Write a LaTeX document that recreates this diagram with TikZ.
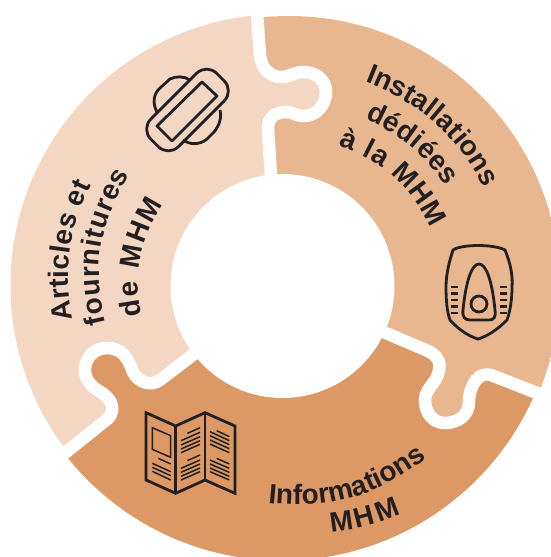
\documentclass[tikz,border=0pt]{standalone}
\usepackage{fontspec}
\usetikzlibrary{decorations.text}
\setmainfont{Liberation Sans}
\definecolor{cLight}{HTML}{F4D7C2}
\definecolor{cMid}{HTML}{E8B78F}
\definecolor{cDark}{HTML}{DC9965}
\definecolor{cInk}{HTML}{231F20}
\def\bandA{(256,0) -- (260,55) .. controls (261,68) and (270,77) .. (281,77) .. controls (290,77) and (294,72) .. (303,72) .. controls (316,72) and (326,80) .. (326,92) .. controls (326,105) and (316,116) .. (304,116) .. controls (296,116) and (293,112) .. (286,112) .. controls (275,112) and (268,118) .. (268,128) -- (271,176) -- (272,200)}
\def\bandB{(360,322) -- (428,351) .. controls (437,355) and (441,362) .. (439,370) .. controls (438,382) and (425,388) .. (425,400) .. controls (425,413) and (433,423) .. (445,423) .. controls (458,423) and (469,415) .. (469,402) .. controls (469,396) and (470,391) .. (473,385) .. controls (476,378) and (482,373) .. (491,375) -- (570,406)}
\def\bandC{(215,338) -- (160,380) .. controls (150,387) and (138,382) .. (133,372) .. controls (128,358) and (122,348) .. (107,348) .. controls (94,348) and (85,358) .. (85,370) .. controls (85,380) and (92,387) .. (99,391) .. controls (108,396) and (113,403) .. (112,411) .. controls (111,416) and (108,419) .. (105,421) -- (40,473)}
\def\curvefont{\fontsize{28}{28}\selectfont\bfseries\color{cInk}}
\tikzset{
  band/.style={draw=white,line width=12.5pt,line cap=butt},
  ink/.style={draw=cInk,line width=2.8pt,line join=round},
  curved/.style={decorate,decoration={text along path,text align={fit to path},text={|\curvefont|#1}}}
}
\begin{document}
\begin{tikzpicture}[x=1pt,y=-1pt]
\useasboundingbox (0,0) rectangle (550,557);
\fill[white] (0,0) rectangle (550,557);
\begin{scope}
\clip (289,287) circle[radius=271];
\fill[cMid] \bandA -- (282,285) -- \bandB -- (620,406) -- (620,-10) -- (256,-10) -- cycle;
\end{scope}
\begin{scope}
\clip (282,285.5) circle[radius=275];
\fill[cDark] (282,285) -- \bandB -- (600,600) -- (-20,600) -- (40,473) -- (66,453) -- (80,340) -- (215,338) -- cycle;
\end{scope}
\begin{scope}
\clip (282,285.5) circle[radius=271.5];
\fill[cLight] \bandA -- (282,285) -- \bandC -- (-20,500) -- (-20,-10) -- (256,-10) -- cycle;
\end{scope}
\draw[band] \bandA;
\draw[band] \bandB;
\draw[band] \bandC;
\fill[white] (282.5,286) circle[radius=112];
% curved texts
\path[curved={Installations}] (365,82) to[bend left=20] (483,186);
\path[curved={dédiées}] (365,119) to[bend left=15] (446,186);
\path[curved={à la MHM}] (338,146) to[bend left=22] (431,228);
\path[curved={Articles et}] (73,319) to[bend left=18] (91,185);
\path[curved={fournitures}] (106,323) to[bend left=23] (130,175);
\path[curved={de MHM}] (142,315) to[bend left=22] (163,204);
\path[curved={Informations}] (268,503) to[bend right=21] (423,461);
\path[curved={MHM}] (331,532) to[bend right=8] (401,514);
% pad icon
\draw[ink] (157,112) .. controls (152,103) and (154,94) .. (159,89) -- (170,79) .. controls (176,76) and (184,76) .. (190,80);
\draw[ink] (220,110) .. controls (222,118) and (219,126) .. (214,132) -- (207,139) .. controls (200,145) and (190,145) .. (183,140);
\draw[ink,rounded corners=14pt,rotate around={45:(187.5,110)}] (141,90.5) rectangle (234,129.5);
\draw[ink] (202,82) -- (217,96) -- (172,141) -- (157,126) -- cycle;
% dispenser icon
\draw[ink] (453,250) .. controls (462,244) and (494,244) .. (505,250) .. controls (510,262) and (513,275) .. (512,287) .. controls (512,300) and (510,312) .. (507,320) .. controls (498,329) and (488,336) .. (478,339) .. controls (468,336) and (458,329) .. (450,320) .. controls (447,312) and (446,300) .. (446,287) .. controls (446,275) and (449,262) .. (453,250) -- cycle;
\draw[ink] (479,264) .. controls (472,264) and (466,280) .. (463,310) .. controls (462,317) and (465,320) .. (470,320) -- (489,320) .. controls (494,320) and (496,317) .. (495,310) .. controls (492,280) and (486,264) .. (479,264) -- cycle;
\draw[ink] (479,304) circle[radius=8];
\foreach \yy in {287,293.5,300,306.5,313}{
  \draw[draw=cInk,line width=2.4pt] (451,\yy) -- (458,\yy);
  \draw[draw=cInk,line width=2.4pt] (499.5,\yy) -- (507,\yy);
}
% map icon
\begin{scope}[shift={(130,400)},x=.33333pt,y=-.33333pt]
\draw[ink,line join=miter] (48,38) -- (137,78) -- (225,38) -- (315,78) -- (315,280) -- (225,240) -- (137,280) -- (48,240) -- cycle;
\draw[ink] (137,78) -- (137,280);
\draw[ink] (225,38) -- (225,240);
\draw[draw=cInk,line width=1.5pt] (67,83) -- (122,107) -- (122,172) -- (67,148) -- cycle;
\foreach \xa/\ya/\xb/\yb in {85/175/122/192,67/190/122/215,67/202/122/227,67/214/122/240,
 172/100/210/83,153/122/210/97,153/135/210/110,153/147/210/122,153/158/210/133,
 172/182/210/165,153/205/210/180,153/217/210/192,153/229/210/204,153/240/210/215,
 260/92/298/110,240/95/298/122,240/107/298/134,240/120/298/146,240/132/298/158,
 260/175/298/192,240/180/298/205,240/192/298/217,240/204/298/229,240/215/298/240}{
  \draw[draw=cInk,line width=1.5pt] (\xa,\ya) -- (\xb,\yb);
}
\end{scope}
\end{tikzpicture}
\end{document}
